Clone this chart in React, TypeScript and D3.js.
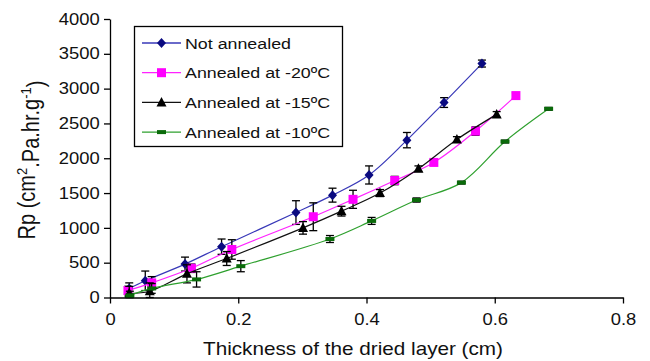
import React, { useEffect, useRef } from 'react';
import * as d3 from 'd3';

// Thickness of dried layer (cm) and Rp values
const thickNot = [0.03, 0.055, 0.117, 0.174, 0.29, 0.347, 0.404, 0.463, 0.521, 0.58];
const rpNot = [130, 240, 480, 730, 1220, 1470, 1760, 2260, 2800, 3360];
const errNot = [80, 140, 100, 110, 170, 100, 130, 110, 70, 50];

const thick20 = [0.028, 0.065, 0.127, 0.19, 0.317, 0.379, 0.444, 0.505, 0.57, 0.633];
const rp20 = [100, 210, 420, 690, 1160, 1410, 1680, 1940, 2390, 2900];
const err20 = [60, 90, 60, 140, 200, 130, 60, 40, 60, 40];

const thick15 = [0.03, 0.062, 0.12, 0.182, 0.301, 0.361, 0.421, 0.481, 0.541, 0.603];
const rp15 = [60, 90, 340, 560, 1000, 1240, 1500, 1850, 2270, 2630];
const err15 = [100, 120, 130, 100, 90, 70, 50, 40, 40, 40];

const thick10 = [0.031, 0.065, 0.135, 0.204, 0.343, 0.408, 0.478, 0.548, 0.616, 0.684];
const rp10 = [30, 130, 260, 450, 840, 1100, 1400, 1650, 2240, 2710];
const err10 = [60, 70, 110, 80, 50, 50, 30, 20, 20, 20];

const seriesNames = ['Not annealed', 'Annealed at -20ºC', 'Annealed at -15ºC', 'Annealed at -10ºC'];
const xTicks = [0, 0.2, 0.4, 0.6, 0.8];
const yTicks = [0, 500, 1000, 1500, 2000, 2500, 3000, 3500, 4000];

const FONT = '"Liberation Sans", Arial, Helvetica, sans-serif';
const SX = 1.15; // the scan is a bit stretched horizontally

interface Series {
    name: string
    xs: number[]
    ys: number[]
    errs: number[]
    line: string
    fill: string
    marker: 'diamond' | 'square' | 'triangle' | 'dash'
}

const series: Series[] = [
    { name: seriesNames[0], xs: thickNot, ys: rpNot, errs: errNot, line: '#3838b8', fill: '#0a0a80', marker: 'diamond' },
    { name: seriesNames[1], xs: thick20, ys: rp20, errs: err20, line: '#ff22ff', fill: '#ff00ff', marker: 'square' },
    { name: seriesNames[2], xs: thick15, ys: rp15, errs: err15, line: '#111111', fill: '#000000', marker: 'triangle' },
    { name: seriesNames[3], xs: thick10, ys: rp10, errs: err10, line: '#2ea02e', fill: '#0a6a0a', marker: 'dash' },
];

const drawMarker = (g: d3.Selection<SVGGElement, unknown, null, undefined>, kind: string, cx: number, cy: number, fill: string) => {
    if (kind === 'diamond') {
        g.append('path').attr('d', `M${cx},${cy - 5}L${cx + 4.5},${cy}L${cx},${cy + 5}L${cx - 4.5},${cy}Z`).attr('fill', fill)
    } else if (kind === 'square') {
        g.append('rect').attr('x', cx - 4.5).attr('y', cy - 4.5).attr('width', 9).attr('height', 9).attr('fill', fill)
    } else if (kind === 'triangle') {
        g.append('path').attr('d', `M${cx},${cy - 5.5}L${cx + 5},${cy + 4}L${cx - 5},${cy + 4}Z`).attr('fill', fill)
    } else {
        g.append('rect').attr('x', cx - 4.5).attr('y', cy - 2).attr('width', 9).attr('height', 4).attr('fill', fill)
    }
}

const Chart = () => {
    const ref = useRef<SVGSVGElement>(null)

    useEffect(() => {
        const svg = d3.select(ref.current)
        svg.selectAll('*').remove()

        const x = d3.scaleLinear().domain([0, 0.8]).range([110, 623])
        const y = d3.scaleLinear().domain([0, 4000]).range([297.5, 19])

        // axes
        const yAxis = svg.append('g')
            .attr('transform', `translate(${x(0)},0)`)
            .call(d3.axisLeft(y).tickValues(yTicks).tickSize(6).tickSizeOuter(0).tickPadding(3).tickFormat(d3.format('d')))
        const xAxis = svg.append('g')
            .attr('transform', `translate(0,${y(0)})`)
            .call(d3.axisBottom(x).tickValues(xTicks).tickSize(6).tickSizeOuter(0).tickPadding(10)
                .tickFormat((d) => (d === 0 ? '0' : d3.format('.1f')(d as number))))
        for (const a of [xAxis, yAxis]) {
            a.select('.domain').attr('stroke', '#000').attr('stroke-width', 1.3)
            a.selectAll('.tick line').attr('stroke', '#000').attr('stroke-width', 1.3)
            a.selectAll('.tick text')
                .attr('fill', '#111')
                .style('font-family', FONT)
                .style('font-size', '16px')
        }
        yAxis.selectAll('.tick text').attr('transform', `scale(${SX},1)`)
        xAxis.selectAll('.tick text').attr('transform', `scale(${SX},1)`)

        // series: lines, error bars, markers
        const line = d3.line<[number, number]>()
            .x((d) => x(d[0]))
            .y((d) => y(d[1]))
            .curve(d3.curveCatmullRom.alpha(0.5))

        series.forEach((s) => {
            const pts = s.xs.map((v, i) => [v, s.ys[i]] as [number, number])
            svg.append('path')
                .attr('d', line(pts))
                .attr('fill', 'none')
                .attr('stroke', s.line)
                .attr('stroke-width', 1.2)

            const eg = svg.append('g').attr('stroke', '#000').attr('stroke-width', 1.3)
            pts.forEach((p, i) => {
                const cx = x(p[0])
                const top = y(p[1] + s.errs[i])
                const bot = y(Math.max(0, p[1] - s.errs[i]))
                eg.append('line').attr('x1', cx).attr('x2', cx).attr('y1', top).attr('y2', bot)
                eg.append('line').attr('x1', cx - 4).attr('x2', cx + 4).attr('y1', top).attr('y2', top)
                eg.append('line').attr('x1', cx - 4).attr('x2', cx + 4).attr('y1', bot).attr('y2', bot)
            })

            const mg = svg.append('g')
            pts.forEach((p) => drawMarker(mg as any, s.marker, x(p[0]), y(p[1]), s.fill))
        })

        // legend
        const lg = svg.append('g')
        lg.append('rect')
            .attr('x', 134.5).attr('y', 26.5).attr('width', 208).attr('height', 120)
            .attr('fill', '#fff').attr('stroke', '#000').attr('stroke-width', 1.3)
        series.forEach((s, i) => {
            const ly = 43 + i * 29.7
            lg.append('line').attr('x1', 142).attr('x2', 181).attr('y1', ly).attr('y2', ly)
                .attr('stroke', s.line).attr('stroke-width', 1.3)
            drawMarker(lg as any, s.marker, 161.5, ly, s.fill)
            lg.append('text')
                .attr('transform', `translate(185,${ly + 5.5}) scale(${SX},1)`)
                .attr('fill', '#111')
                .style('font-family', FONT)
                .style('font-size', '15.5px')
                .text(s.name)
        })

        // axis titles
        svg.append('text')
            .attr('transform', `translate(353,355) scale(${SX},1)`)
            .attr('text-anchor', 'middle')
            .attr('fill', '#111')
            .style('font-family', FONT)
            .style('font-size', '18px')
            .text('Thickness of the dried layer (cm)')

        const yt = svg.append('text')
            .attr('transform', `translate(35,160) rotate(-90) scale(1,${SX})`)
            .attr('text-anchor', 'middle')
            .attr('fill', '#111')
            .style('font-family', FONT)
            .style('font-size', '20px')
        yt.append('tspan').text('Rp (cm')
        yt.append('tspan').attr('dy', '-0.55em').style('font-size', '13px').text('2')
        yt.append('tspan').attr('dy', '0.55em').text('.Pa.hr.g')
        yt.append('tspan').attr('dy', '-0.55em').style('font-size', '13px').text('-1')
        yt.append('tspan').attr('dy', '0.55em').text(')')
    }, [])

    return <svg ref={ref} width={650} height={361} style={{ position: 'absolute', left: 0, top: 0, background: '#fff' }} />
}

export default function App() {
    return <Chart />
}
